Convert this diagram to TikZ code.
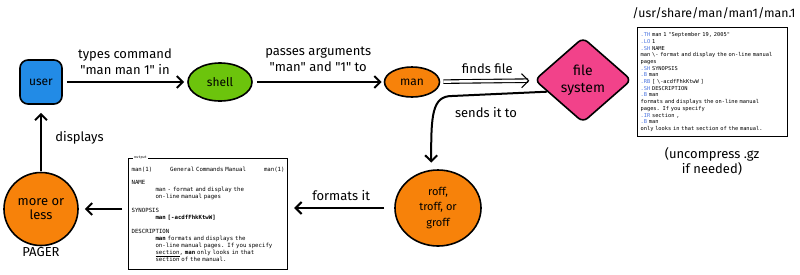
\documentclass[tikz,border=0pt]{standalone}
\usepackage{fontspec}
\setmainfont{Fira Sans}
\setmonofont{DejaVu Sans Mono}
\usetikzlibrary{shapes.geometric,arrows.meta}

\definecolor{userblue}{HTML}{228BE6}
\definecolor{shellgreen}{HTML}{6CC40C}
\definecolor{manorange}{HTML}{F7820A}
\definecolor{fspink}{HTML}{F2428A}
\definecolor{macblue}{HTML}{4A74E0}

\newcommand{\mc}[1]{\textcolor{macblue}{#1}}
\newcommand{\ind}{\hspace*{4.2em}}
\newcommand{\qq}{\textquotedbl}

\tikzset{
  blob/.style={draw=black, line width=1.6pt, align=center, inner sep=1pt,
    font=\fontsize{12}{14}\selectfont},
  arr/.style={line width=2pt, -{Straight Barb[length=6pt,width=12pt]}},
  dbl/.style={double, double distance=2.4pt, line width=1.1pt,
    -{Straight Barb[length=7pt,width=14pt]}},
  lbl/.style={font=\fontsize{13}{16}\selectfont, align=center},
  page/.style={draw=black, line width=1.2pt, fill=white, align=left, inner sep=3pt,
    font=\ttfamily\fontsize{5.7}{6.95}\selectfont},
}

\begin{document}
\begin{tikzpicture}[x=1pt,y=-1pt]
  \useasboundingbox (0,0) rectangle (800,274);

  % Nodi principali
  \node[blob, rectangle, rounded corners=8pt, fill=userblue,
    minimum width=42pt, minimum height=44pt] (user) at (41,82) {user};
  \node[blob, ellipse, fill=shellgreen,
    minimum width=64pt, minimum height=38pt] (shell) at (220,82) {shell};
  \node[blob, ellipse, fill=manorange,
    minimum width=55pt, minimum height=30pt] (man) at (412,82) {man};
  \node[blob, diamond, fill=fspink, rounded corners=6pt,
    minimum width=97pt, minimum height=85pt,
    font=\fontsize{14}{17}\selectfont] (fs) at (583,80) {file\\system};
  \node[blob, ellipse, fill=manorange, minimum width=86pt, minimum height=76pt,
    font=\fontsize{11}{15.5}\selectfont] (roff) at (438,208) {roff,\\troff, or\\groff};
  \node[blob, ellipse, fill=manorange, minimum width=74pt, minimum height=73pt,
    font=\fontsize{13}{14.5}\selectfont] (pager) at (41,209) {more or\\less};

  % Sorgente della pagina
  \node[font=\fontsize{12.3}{14}\selectfont] (path) at (714,13) {/usr/share/man/man1/man.1};
  \node[page, anchor=north west, text width=144pt, minimum height=109pt,
    font=\ttfamily\fontsize{5.35}{6.7}\selectfont] (src) at (637,27) {%
    \mc{.TH} man 1 \qq September 19, 2005\qq\\
    \mc{.LO} 1\\
    \mc{.SH} NAME\\
    man \textbackslash- format and display the on-line manual\\
    pages\\
    \mc{.SH} SYNOPSIS\\
    \mc{.B} man\\
    \mc{.RB} [ \textbackslash-acdfFhkKtwW ]\\
    \mc{.SH} DESCRIPTION\\
    \mc{.B} man\\
    formats and displays the on-line manual\\
    pages. If you specify\\
    \mc{.IR} section ,\\
    \mc{.B} man\\
    only looks in that section of the manual.};
  \node[lbl, font=\fontsize{13}{15}\selectfont] (gz) at (712,161) {(uncompress .gz\\if needed)};

  % Pagina formattata
  \node[page, anchor=north west, text width=153pt, minimum height=111pt] (out) at (128,158) {%
    \hbox to \linewidth{man(1)\hfill General Commands Manual\hfill man(1)}\\[6.95pt]
    NAME\\
    \ind man - format and display the\\
    \ind on-line manual pages\\[6.95pt]
    SYNOPSIS\\
    \ind\textbf{man [-acdfFhkKtwW]}\\[6.95pt]
    DESCRIPTION\\
    \ind\textbf{man} formats and displays the\\
    \ind on-line manual pages. If you specify\\
    \ind\underline{section}, \textbf{man} only looks in that\\
    \ind section of the manual.};
  \node[fill=white, inner sep=1pt, anchor=west,
    font=\ttfamily\fontsize{3.5}{4}\selectfont] (outtag) at ([xshift=5pt]out.north west) {output};

  \node[lbl] (pgr) at (41,252) {PAGER};

  % Frecce
  \draw[arr, shorten <=4pt, shorten >=3pt] (user) --
    node[lbl, above=3pt] {types command\\\qq man man 1\qq{} in} (shell);
  \draw[arr, shorten <=4pt, shorten >=2pt] (shell) --
    node[lbl, above=6pt] {passes arguments\\\qq man\qq{} and \qq 1\qq{} to} (man);
  \draw[dbl, shorten <=3pt, shorten >=5pt] (man) --
    node[lbl, above=4pt] {finds file} (fs);
  \draw[arr, shorten >=7pt] (fs.198) -- (452,96)
    .. controls (432,96) and (431,115) .. (roff.100);
  \node[lbl] (sends) at (486,113) {sends it to};
  \draw[arr, shorten <=10pt, shorten >=6pt] (roff.west) --
    node[lbl, above=3pt] {formats it} (roff.west -| out.east);
  \draw[arr, shorten <=6pt, shorten >=6pt] (out.west |- pager) -- (pager);
  \draw[arr, shorten <=1pt, shorten >=8pt] (pager) --
    node[lbl, right=10pt] {displays} (user);
\end{tikzpicture}
\end{document}
